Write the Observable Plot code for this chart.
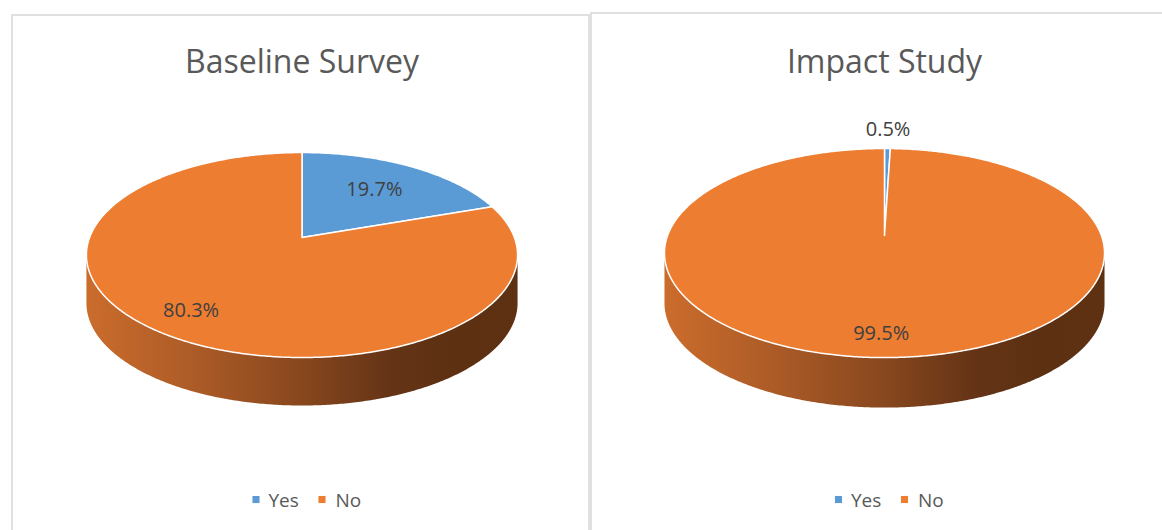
<!DOCTYPE html>
<html>
<head>
<meta charset="utf-8">
<script src="https://cdn.jsdelivr.net/npm/d3@7"></script>
<script src="https://cdn.jsdelivr.net/npm/@observablehq/plot@0.6"></script>
<style>
  body { margin: 0; background: #ffffff; }
  #chart svg { display: block; }
</style>
</head>
<body>
<div id="chart"></div>
<script>
// ---------------- data ----------------
const panelTitles = ["Baseline Survey", "Impact Study"];
const categories = ["Yes", "No"];
const baselineValues = [19.7, 80.3];
const impactValues = [0.5, 99.5];
const seriesValues = [baselineValues, impactValues];
const categoryColors = ["#5B9BD5", "#ED7D31"];

// ---------------- layout ----------------
const W = 1162, H = 530;
const panelBoxes = [
  {x1: 12, x2: 589, y1: 15, y2: 580},
  {x1: 591, x2: 1200, y1: 13, y2: 580}
];
// perspective pie: centre, horizontal radius A, vertical radius B, perspective k, thickness D
const pies = [
  {cx: 301.5, cy: 237, A: 212.4, B: 99.5, k: 0.171, D: 48},
  {cx: 884, cy: 235, A: 216.9, B: 101.6, k: 0.168, D: 50}
];
const labelRadius = [[0.64, 0.8], [1.26, 0.83]];
const titleBaseline = 72;
const legendY = 499, legendBaseline = 506;
const legendOffsets = {swatch: [-51.5, 14.5], text: [-39, 28]};
const legendShift = 5.5;

const sideStops = {
  No: [["0%", "#CB6C2C"], ["25%", "#AC5B27"], ["50%", "#88471E"], ["70%", "#653416"], ["85%", "#5D3012"], ["100%", "#5E3113"]],
  Yes: [["0%", "#4F87BA"], ["25%", "#44769F"], ["50%", "#375F80"], ["70%", "#2A4963"], ["85%", "#25405A"], ["100%", "#25405A"]]
};

function project(p, r, f, dy = 0) {
  const t = Math.PI / 2 - 2 * Math.PI * f;
  const c = Math.cos(t) * r, s = Math.sin(t) * r;
  const w = 1 + p.k * s;
  return {x: p.cx + p.A * c / w, y: p.cy - p.B * s / w + dy};
}

const topPts = [], sidePts = [], labels = [], titles = [], swatches = [], legendTexts = [];

seriesValues.forEach((vals, i) => {
  const p = pies[i];
  const total = d3.sum(vals);
  const alpha = Math.asin(p.k) / (2 * Math.PI);
  const v0 = 0.25 + alpha, v1 = 0.75 - alpha;
  let acc = 0;
  vals.forEach((v, j) => {
    const f0 = acc / total, f1 = (acc + v) / total;
    acc += v;
    const id = `top-${i}-${j}`;
    // top surface
    const n = Math.max(2, Math.ceil((f1 - f0) * 720));
    topPts.push({id, fill: categoryColors[j], ...project(p, 0, 0)});
    for (let s = 0; s <= n; s++) topPts.push({id, fill: categoryColors[j], ...project(p, 1, f0 + (f1 - f0) * s / n)});
    topPts.push({id, fill: categoryColors[j], ...project(p, 0, 0)});
    // visible side
    const a = Math.max(f0, v0), b = Math.min(f1, v1);
    if (b > a) {
      const sid = `side-${i}-${j}`;
      const fill = `url(#grad-${i}-${categories[j]})`;
      const m = Math.max(2, Math.ceil((b - a) * 720));
      for (let s = 0; s <= m; s++) sidePts.push({id: sid, fill, ...project(p, 1, a + (b - a) * s / m)});
      for (let s = m; s >= 0; s--) sidePts.push({id: sid, fill, ...project(p, 1, a + (b - a) * s / m, p.D)});
    }
    // label
    const pos = project(p, labelRadius[i][j], (f0 + f1) / 2);
    labels.push({...pos, text: `${v.toFixed(1)}%`});
  });
  titles.push({x: p.cx, y: titleBaseline, text: panelTitles[i]});
  categories.forEach((c, j) => {
    swatches.push({x: p.cx + legendShift + legendOffsets.swatch[j], y: legendY, fill: categoryColors[j]});
    legendTexts.push({x: p.cx + legendShift + legendOffsets.text[j], y: legendBaseline, text: c});
  });
});

const plot = Plot.plot({
  width: W,
  height: H,
  margin: 0,
  x: {domain: [0, W], range: [0, W], axis: null},
  y: {domain: [0, H], range: [0, H], axis: null},
  color: {type: "identity"},
  style: {fontFamily: "'Open Sans', sans-serif", background: "#ffffff", overflow: "hidden"},
  marks: [
    Plot.rect(panelBoxes, {x1: "x1", x2: "x2", y1: "y1", y2: "y2", fill: "none", stroke: "#D9D9D9", strokeWidth: 1.6}),
    Plot.line(sidePts, {x: "x", y: "y", z: "id", fill: "fill", stroke: "none"}),
    Plot.line(topPts, {x: "x", y: "y", z: "id", fill: "fill", stroke: "#ffffff", strokeWidth: 1.5, strokeLinejoin: "round"}),
    Plot.text(labels, {x: "x", y: "y", text: "text", fontSize: 20, fill: "#404040"}),
    Plot.text(titles, {x: "x", y: "y", text: "text", fontSize: 32, fill: "#595959", lineAnchor: "bottom"}),
    Plot.dot(swatches, {x: "x", y: "y", fill: "fill", symbol: "square", r: 4, stroke: null}),
    Plot.text(legendTexts, {x: "x", y: "y", text: "text", textAnchor: "start", fontSize: 19, fill: "#595959", lineAnchor: "bottom"})
  ]
});

// gradients for the pie sides
const defs = d3.select(plot).insert("defs", ":first-child");
pies.forEach((p, i) => {
  const half = p.A / Math.sqrt(1 - p.k * p.k);
  categories.forEach(c => {
    const g = defs.append("linearGradient")
      .attr("id", `grad-${i}-${c}`)
      .attr("gradientUnits", "userSpaceOnUse")
      .attr("x1", p.cx - half).attr("x2", p.cx + half)
      .attr("y1", 0).attr("y2", 0);
    sideStops[c].forEach(([o, col]) => g.append("stop").attr("offset", o).attr("stop-color", col));
  });
});

document.getElementById("chart").appendChild(plot);
</script>
</body>
</html>
